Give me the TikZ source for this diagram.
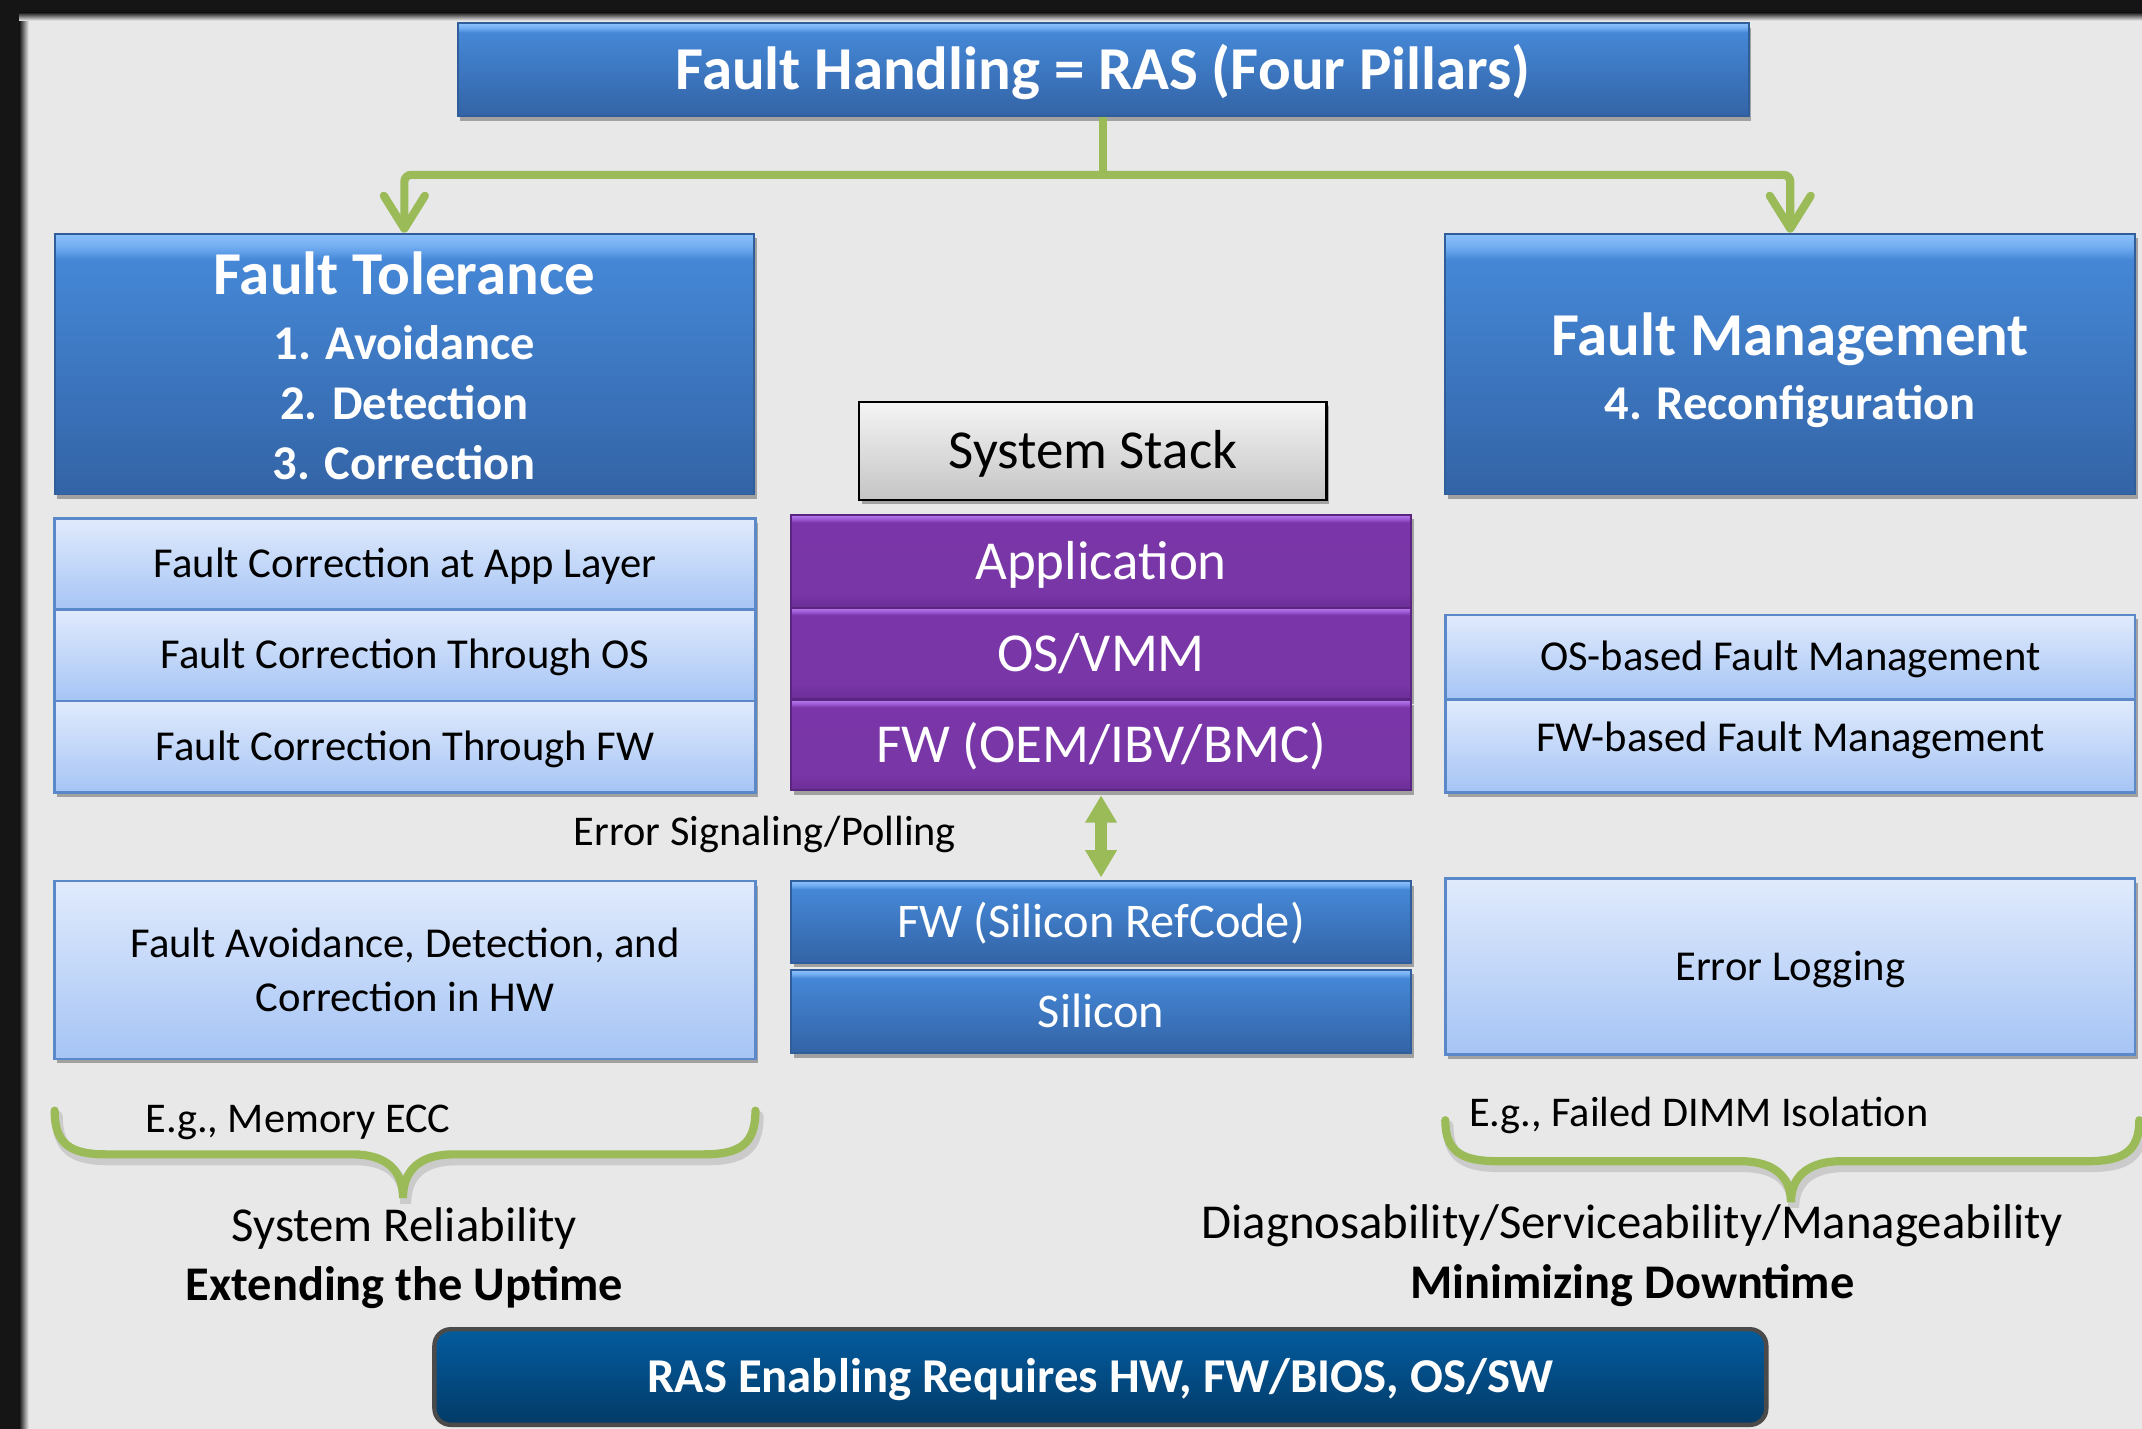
\documentclass[tikz,border=0pt]{standalone}
\usepackage{fontspec}
\setmainfont{Carlito}
\usetikzlibrary{arrows.meta,shadows}

\definecolor{bgGray}{HTML}{E8E8E8}
\definecolor{frameBlack}{HTML}{151515}
\definecolor{linkGreen}{HTML}{9BBB59}
\definecolor{blueEdge}{HTML}{2F5E9A}
\definecolor{paleEdge}{HTML}{5A88C8}
\definecolor{purpleEdge}{HTML}{5A2480}
\definecolor{navyEdge}{HTML}{4A4A4A}

% vertical fills, listed bottom to top; 25bp..75bp spans the node
\pgfdeclareverticalshading{blueBevel}{100bp}{rgb(0bp)=(0.20,0.39,0.65); rgb(25bp)=(0.20,0.39,0.65); rgb(70bp)=(0.27,0.53,0.84); rgb(72.5bp)=(0.45,0.68,0.95); rgb(75bp)=(0.55,0.76,0.98); rgb(100bp)=(0.55,0.76,0.98)}
\pgfdeclareverticalshading{paleFill}{100bp}{rgb(0bp)=(0.65,0.77,0.96); rgb(25bp)=(0.65,0.77,0.96); rgb(75bp)=(0.88,0.92,0.99); rgb(100bp)=(0.88,0.92,0.99)}
\pgfdeclareverticalshading{purpleBevel}{100bp}{rgb(0bp)=(0.42,0.18,0.59); rgb(25bp)=(0.42,0.18,0.59); rgb(33bp)=(0.47,0.21,0.65); rgb(71bp)=(0.48,0.21,0.66); rgb(73bp)=(0.62,0.36,0.84); rgb(75bp)=(0.72,0.48,0.92); rgb(100bp)=(0.72,0.48,0.92)}
\pgfdeclareverticalshading{greyFill}{100bp}{rgb(0bp)=(0.77,0.77,0.77); rgb(25bp)=(0.77,0.77,0.77); rgb(75bp)=(0.96,0.96,0.96); rgb(100bp)=(0.96,0.96,0.96)}
\pgfdeclareverticalshading{navyFill}{100bp}{rgb(0bp)=(0.01,0.23,0.40); rgb(25bp)=(0.01,0.23,0.40); rgb(60bp)=(0.01,0.32,0.56); rgb(75bp)=(0.01,0.36,0.61); rgb(100bp)=(0.01,0.36,0.61)}

\tikzset{
  % fixed line box for one-line labels, given the font size in pt
  lineh/.style={text height={#1*0.8pt}, text depth={#1*0.16pt}},
  boxbase/.style={rectangle, inner sep=0pt, align=center,
    drop shadow={shadow xshift=1pt, shadow yshift=-1.6pt, opacity=0.3, fill=black}},
  bluebox/.style={boxbase, shading=blueBevel, draw=blueEdge, line width=0.7pt, text=white},
  palebox/.style={boxbase, shading=paleFill, draw=paleEdge, line width=0.9pt, text=black,
    font=\fontsize{15.6}{19.5}\selectfont},
  purplebox/.style={boxbase, shading=purpleBevel, draw=purpleEdge, line width=0.7pt, text=white,
    font=\fontsize{20.1}{24}\selectfont, lineh=20.1},
  stackbox/.style={boxbase, shading=greyFill, draw=black, line width=0.8pt,
    font=\fontsize{20.1}{24}\selectfont, lineh=20.1},
  navybox/.style={rectangle, inner sep=0pt, rounded corners=6pt, shading=navyFill,
    draw=navyEdge, line width=1.6pt, text=white, font=\bfseries\fontsize{17.8}{22}\selectfont, lineh=17.8},
  freetext/.style={inner sep=0pt, text=black},
  greenlink/.style={draw=linkGreen, line width=3pt},
  linkarrow/.style={greenlink, rounded corners=2.5pt, -{Straight Barb[length=12pt,width=15pt,round]}},
  twoway/.style={draw=linkGreen, line width=4.5pt,
    {Triangle[length=10pt,width=11pt]}-{Triangle[length=10pt,width=11pt]}},
  greenbrace/.style={draw=linkGreen, line width=3pt, line cap=round},
  braceshade/.style={draw=black, opacity=0.12, line width=4pt, line cap=round},
}

\begin{document}
\begin{tikzpicture}[x=0.5pt, y=-0.5pt]
\useasboundingbox (0,0) rectangle (1568,1046);
\fill[bgGray] (0,0) rectangle (1568,1046);

% dark slide frame on the top and left edges
\fill[frameBlack] (0,0) rectangle (14,1046);
\fill[frameBlack] (0,0) rectangle (1568,9);
\shade[left color=frameBlack, right color=bgGray] (14,9) rectangle (21,1046);
\shade[top color=frameBlack, bottom color=bgGray] (14,9) rectangle (1568,15);

% headline and the two pillars
\node[bluebox, minimum width=472.5pt, minimum height=34pt, font=\bfseries\fontsize{22.3}{26}\selectfont, lineh=22.3] (title) at (807.5,51)
  {Fault Handling = RAS (Four Pillars)};
\node[bluebox, minimum width=256pt, minimum height=95.5pt, font=\bfseries\fontsize{17.75}{22}\selectfont] (ft) at (296,266.5)
  {\rule{0pt}{17pt}{\fontsize{22.3}{22}\selectfont Fault Tolerance}\\[1.5pt] 1. Avoidance\\ 2. Detection\\ 3. Correction};
\node[bluebox, minimum width=252.5pt, minimum height=95.5pt, font=\bfseries\fontsize{17.75}{22}\selectfont] (fm) at (1310.5,266.5)
  {\rule{0pt}{19.9pt}{\fontsize{22.3}{22}\selectfont Fault Management}\\[1.5pt] 4. Reconfiguration};

\coordinate (split) at (title.south |- 0,128);
\draw[greenlink] (title.south) -- (split);
\draw[linkarrow] (split) -| (ft.north);
\draw[linkarrow] (split) -| (fm.north);

% system stack
\node[stackbox, minimum width=171pt, minimum height=36pt] (stack) at (800,330) {System Stack};
\node[purplebox, minimum width=227pt, minimum height=34pt] (papp) at (806,411) {Application};
\node[purplebox, minimum width=227pt, minimum height=33.5pt] (pos) at (806,478.5) {OS/VMM};
\node[purplebox, minimum width=227pt, minimum height=33pt] (pfw) at (806,545.5) {FW (OEM/IBV/BMC)};

\node[bluebox, minimum width=227pt, minimum height=30pt, font=\fontsize{17.7}{20}\selectfont, lineh=17.7] (silref) at (806,675) {FW (Silicon RefCode)};
\node[bluebox, minimum width=227pt, minimum height=30.5pt, font=\fontsize{17.7}{20}\selectfont, lineh=17.7] (silicon) at (806,740.5) {Silicon};

\draw[twoway, shorten <=1.5pt, shorten >=1pt] (pfw.south) -- (silref.north);
\node[freetext, font=\fontsize{15.5}{18}\selectfont, lineh=15.5] (errsig) at (560,609) {Error Signaling/Polling};

% fault tolerance column
\node[palebox, lineh=15.6, minimum width=256.5pt, minimum height=33.5pt] (appfix) at (296.5,413) {Fault Correction at App Layer};
\node[palebox, lineh=15.6, minimum width=256.5pt, minimum height=33.5pt] (osfix) at (296.5,479.5) {Fault Correction Through OS};
\node[palebox, lineh=15.6, minimum width=256.5pt, minimum height=33.5pt] (fwfix) at (296.5,546.5) {Fault Correction Through FW};
\node[palebox, minimum width=256.5pt, minimum height=65pt] (hwfix) at (296.5,710) {Fault Avoidance, Detection, and\\ Correction in HW};

% fault management column
\node[palebox, lineh=15.6, minimum width=252.5pt, minimum height=31pt] (osfm) at (1310.5,481) {OS-based Fault Management};
\node[palebox, minimum width=252.5pt, minimum height=34pt, text height=12.5pt, text depth=8.4pt] (fwfm) at (1310.5,546) {FW-based Fault Management};
\node[palebox, lineh=15.6, minimum width=252.5pt, minimum height=64.5pt] (errlog) at (1310.5,707.5) {Error Logging};

% braces with their notes
\begin{scope}[shift={(2,4)}]
\draw[braceshade] (40,813) .. controls (40,838) and (52,845) .. (78,845) -- (258,845)
  .. controls (282,845) and (295,856) .. (295,877) .. controls (295,856) and (308,845) .. (332,845)
  -- (515,845) .. controls (541,845) and (553,838) .. (553,813);
\draw[braceshade] (1058,820) .. controls (1058,843) and (1070,850) .. (1096,850) -- (1274,850)
  .. controls (1298,850) and (1311,861) .. (1311,880) .. controls (1311,861) and (1324,850) .. (1348,850)
  -- (1528,850) .. controls (1554,850) and (1566,843) .. (1566,820);
\end{scope}
\draw[greenbrace] (40,813) .. controls (40,838) and (52,845) .. (78,845) -- (258,845)
  .. controls (282,845) and (295,856) .. (295,877) .. controls (295,856) and (308,845) .. (332,845)
  -- (515,845) .. controls (541,845) and (553,838) .. (553,813);
\draw[greenbrace] (1058,820) .. controls (1058,843) and (1070,850) .. (1096,850) -- (1274,850)
  .. controls (1298,850) and (1311,861) .. (1311,880) .. controls (1311,861) and (1324,850) .. (1348,850)
  -- (1528,850) .. controls (1554,850) and (1566,843) .. (1566,820);

\node[freetext, anchor=west, font=\fontsize{15.5}{18}\selectfont, lineh=15.5] (ecc) at (106,819) {E.g., Memory ECC};
\node[freetext, anchor=west, font=\fontsize{15.5}{18}\selectfont, lineh=15.5] (dimm) at (1075,815) {E.g., Failed DIMM Isolation};

\node[freetext, font=\fontsize{17.85}{20}\selectfont, lineh=17.85] (rel) at (296,897) {System Reliability};
\node[freetext, font=\bfseries\fontsize{17.7}{20}\selectfont, lineh=17.7] (uptime) at (296,941) {Extending the Uptime};
\node[freetext, font=\fontsize{17.85}{20}\selectfont, lineh=17.85] (dsm) at (1195,895) {Diagnosability/Serviceability/Manageability};
\node[freetext, font=\bfseries\fontsize{17.7}{20}\selectfont, lineh=17.7] (downtime) at (1195,939) {Minimizing Downtime};

% closing banner
\node[navybox, minimum width=487.5pt, minimum height=35pt] (banner) at (805.5,1008) {RAS Enabling Requires HW, FW/BIOS, OS/SW};
\end{tikzpicture}
\end{document}
